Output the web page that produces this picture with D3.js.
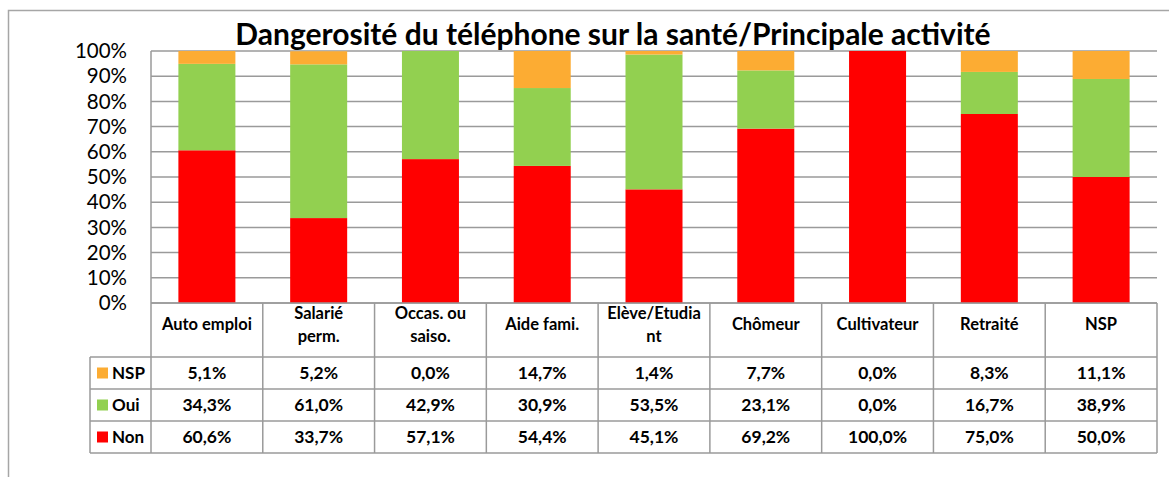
<!DOCTYPE html>
<html>
<head>
<meta charset="utf-8">
<script src="https://cdn.jsdelivr.net/npm/d3@7"></script>
<style>
  body { margin:0; background:#fff; }
  svg text { font-family: Lato, "Open Sans", sans-serif; fill:#000; }
</style>
</head>
<body>
<div class="chart"></div>
<script>
// data
const categories = ["Auto emploi", "Salarié perm.", "Occas. ou saiso.", "Aide fami.", "Elève/Etudiant",
                    "Chômeur", "Cultivateur", "Retraité", "NSP"];
const catLines = [["Auto emploi"], ["Salarié", "perm."], ["Occas. ou", "saiso."], ["Aide fami."],
                  ["Elève/Etudia", "nt"], ["Chômeur"], ["Cultivateur"], ["Retraité"], ["NSP"]];
const nonValues = [60.6, 33.7, 57.1, 54.4, 45.1, 69.2, 100.0, 75.0, 50.0];
const ouiValues = [34.3, 61.0, 42.9, 30.9, 53.5, 23.1, 0.0, 16.7, 38.9];
const nspValues = [5.1, 5.2, 0.0, 14.7, 1.4, 7.7, 0.0, 8.3, 11.1];
const seriesNames = ["Non", "Oui", "NSP"];
const seriesColors = {Non:"#ff0000", Oui:"#92d050", NSP:"#fcac33"};
const yTicks = [0, 10, 20, 30, 40, 50, 60, 70, 80, 90, 100];
const title = "Dangerosité du téléphone sur la santé/Principale activité";

let outWidth = 1169, outHeight = 477;
let plot = {left:151, right:1157, top:51, bottom:303};
let rowH = 32, catRowH = 54, legendLeft = 90;

const svg = d3.select('.chart').append('svg')
    .attr("width", outWidth)
    .attr("height", outHeight);

// outer frame
svg.append("path")
    .attr("d", `M8.5,${outHeight} L8.5,10.5 L${outWidth},10.5`)
    .attr("fill","none").attr("stroke","#a6a6a6").attr("stroke-width",1.5);

let x = d3.scaleBand()
    .domain(categories)
    .range([plot.left, plot.right])
    .paddingInner(0.49).paddingOuter(0.245);
let band = d3.scaleBand().domain(categories).range([plot.left, plot.right]);

let y = d3.scaleLinear().domain([0,100]).range([plot.bottom, plot.top]);

// gridlines
svg.append("g").selectAll("line")
    .data(yTicks)
    .join("line")
    .attr("x1", plot.left).attr("x2", plot.right)
    .attr("y1", d=>y(d)).attr("y2", d=>y(d))
    .attr("stroke","#9a9a9a").attr("stroke-width",1.5);

// y axis labels
svg.append("g").selectAll("text")
    .data(yTicks)
    .join("text")
    .attr("x", 127).attr("y", d=>y(d))
    .attr("dy","0.35em")
    .attr("text-anchor","end")
    .attr("font-size",20.5)
    .text(d=>d+"%");

// stacked bars
let rows = categories.map((c,i)=>({cat:c, Non:nonValues[i], Oui:ouiValues[i], NSP:nspValues[i]}));
let stack = d3.stack().keys(seriesNames)(rows);

svg.append("g").selectAll("g")
    .data(stack)
    .join("g")
    .attr("fill", d=>seriesColors[d.key])
    .selectAll("rect")
    .data(d=>d)
    .join("rect")
    .attr("x", d=>x(d.data.cat))
    .attr("width", x.bandwidth())
    .attr("y", d=>y(d[1]))
    .attr("height", d=>y(d[0])-y(d[1]));

// left axis line
svg.append("line")
    .attr("x1", plot.left).attr("x2", plot.left)
    .attr("y1", plot.top).attr("y2", plot.bottom)
    .attr("stroke","#9a9a9a").attr("stroke-width",1.5);

// data table
const tableRows = ["NSP","Oui","Non"];
const tableValues = {NSP:nspValues, Oui:ouiValues, Non:nonValues};
let tTop = plot.bottom, tRows = tTop + catRowH, tBottom = tRows + rowH*tableRows.length;
const tbl = svg.append("g").attr("stroke","#9a9a9a").attr("stroke-width",1.5);

// horizontal lines
tbl.append("line").attr("x1",plot.left).attr("x2",plot.right).attr("y1",tTop).attr("y2",tTop);
d3.range(tableRows.length+1).forEach(i=>{
    tbl.append("line").attr("x1",legendLeft).attr("x2",plot.right)
        .attr("y1",tRows+i*rowH).attr("y2",tRows+i*rowH);
});
// vertical lines
tbl.append("line").attr("x1",legendLeft).attr("x2",legendLeft).attr("y1",tRows).attr("y2",tBottom);
categories.forEach(c=>{
    tbl.append("line").attr("x1",band(c)).attr("x2",band(c)).attr("y1",tTop).attr("y2",tBottom);
});
tbl.append("line").attr("x1",plot.right).attr("x2",plot.right).attr("y1",tTop).attr("y2",tBottom);

// category labels
const catG = svg.append("g").selectAll("text")
    .data(categories)
    .join("text")
    .attr("text-anchor","middle")
    .attr("font-size",16.5).attr("font-weight","bold")
    .attr("x", d=>band(d)+band.bandwidth()/2)
    .attr("y", (d,i)=> tTop + catRowH/2 - (catLines[i].length-1)*11.5)
    .attr("dy","0.35em");
catG.selectAll("tspan")
    .data((d,i)=>catLines[i])
    .join("tspan")
    .attr("x", function(){ return this.parentNode.getAttribute("x"); })
    .attr("dy", (d,j)=> j===0 ? 0 : 23)
    .text(d=>d);

// legend keys + values
tableRows.forEach((k,r)=>{
    let cy = tRows + r*rowH + rowH/2;
    svg.append("rect").attr("x",97).attr("y",cy-5.5).attr("width",11).attr("height",11)
        .attr("fill",seriesColors[k]);
    svg.append("text").attr("x",112).attr("y",cy).attr("dy","0.35em")
        .attr("font-size",17).attr("font-weight","bold").text(k);
    svg.append("g").selectAll("text")
        .data(tableValues[k])
        .join("text")
        .attr("x",(d,i)=>band(categories[i])+band.bandwidth()/2)
        .attr("y",cy).attr("dy","0.35em")
        .attr("text-anchor","middle")
        .attr("font-size",17.5).attr("font-weight","bold")
        .text(d=>d.toFixed(1).replace(".",",")+"%");
});

// title
svg.append("text")
    .attr("x", 613).attr("y", 45)
    .attr("text-anchor","middle")
    .attr("font-size",30).attr("font-weight","bold")
    .text(title);
</script>
</body>
</html>
